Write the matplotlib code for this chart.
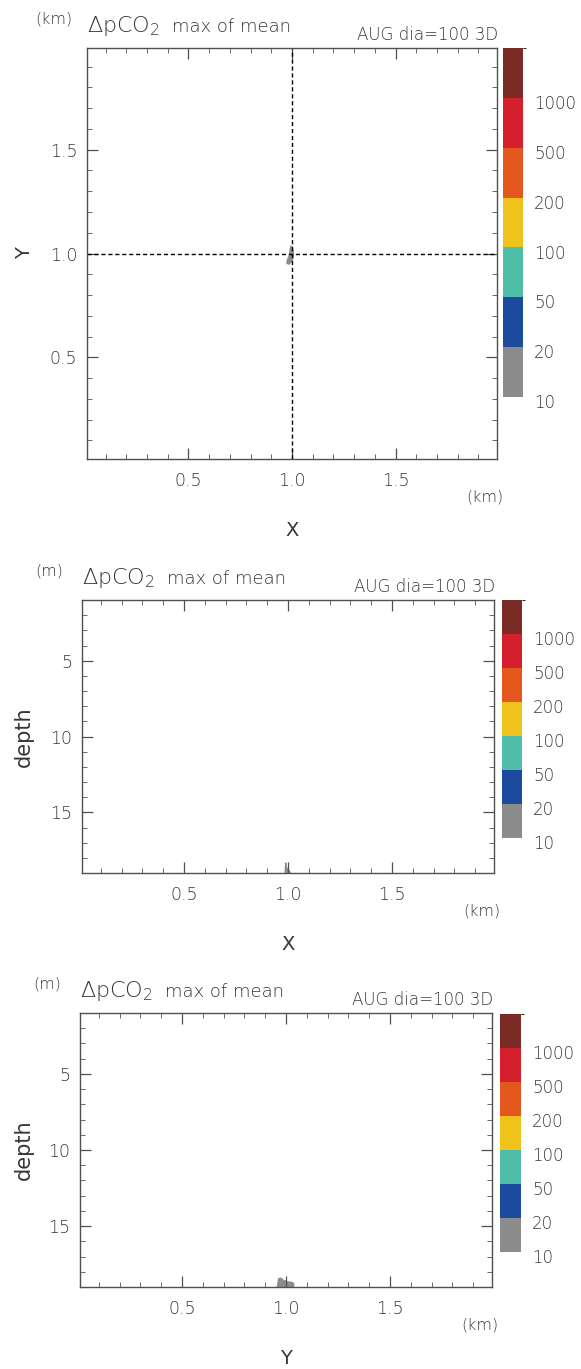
import matplotlib
matplotlib.use('Agg')
import matplotlib.pyplot as plt
from matplotlib.colors import ListedColormap, BoundaryNorm
from matplotlib.cm import ScalarMappable
from matplotlib.ticker import MultipleLocator, FormatStrFormatter
from matplotlib.transforms import ScaledTranslation

plt.rcParams['font.family'] = ['DejaVu Sans']
plt.rcParams['font.weight'] = 'light'

# dpCO2 class boundaries and colours (uatm)
levels = [10, 20, 50, 100, 200, 500, 1000, 2000]
level_labels = [10, 20, 50, 100, 200, 500, 1000]
level_colors = ['#8c8c8c', '#1b4a9f', '#4fbea8', '#f0c21c',
                '#e4571f', '#d61f2c', '#7a2b25']

# plume outline, horizontal plane at source depth (km)
plan_x = [0.993, 1.003, 1.010, 1.009, 1.000, 0.986, 0.972, 0.974, 0.984, 0.988]
plan_y = [1.040, 1.034, 1.008, 0.980, 0.958, 0.945, 0.950, 0.968, 0.992, 1.022]

# plume outline, X-depth section (km, m)
xsec_x = [0.983, 0.986, 0.993, 0.996, 1.008, 1.014, 0.983]
xsec_depth = [19.0, 18.30, 18.30, 18.65, 18.80, 19.0, 19.0]

# plume outline, Y-depth section (km, m)
ysec_y = [0.955, 0.962, 0.975, 0.985, 0.990, 1.000, 1.005, 1.030, 1.040, 1.040, 0.955]
ysec_depth = [19.0, 18.40, 18.38, 18.45, 18.55, 18.55, 18.62, 18.65, 18.75, 19.0, 19.0]

src_x, src_y = 1.0, 1.0

W, H = 581, 1369
TXT = '#363636'
fig = plt.figure(figsize=(W / 100, H / 100), dpi=100)


def box(l, t, r, b):
    return [l / W, 1 - b / H, (r - l) / W, (b - t) / H]


def ftext(x, y, s, **kw):
    kw.setdefault('color', TXT)
    fig.text(x / W, 1 - y / H, s, **kw)


cmap = ListedColormap(level_colors)
norm = BoundaryNorm(levels, cmap.N)


def panel(ax_px, cb_px, vunit, xlab, ylab, depth):
    l, t, r, b = ax_px
    ax = fig.add_axes(box(*ax_px))
    ax.set_xlim(0.01, 1.99)
    if depth:
        ax.set_ylim(19, 1)
        ax.yaxis.set_major_locator(MultipleLocator(5))
        ax.yaxis.set_minor_locator(MultipleLocator(1))
        ax.yaxis.set_major_formatter(FormatStrFormatter('%d'))
    else:
        ax.set_ylim(0.01, 1.99)
        ax.yaxis.set_major_locator(MultipleLocator(0.5))
        ax.yaxis.set_minor_locator(MultipleLocator(0.1))
        ax.yaxis.set_major_formatter(FormatStrFormatter('%.1f'))
    ax.xaxis.set_major_locator(MultipleLocator(0.5))
    ax.xaxis.set_minor_locator(MultipleLocator(0.1))
    ax.xaxis.set_major_formatter(FormatStrFormatter('%.1f'))
    ax.set_xticks([0.5, 1.0, 1.5])
    ax.tick_params(which='both', direction='in', top=True, right=True,
                   colors='#505050', labelcolor=TXT, labelsize=12.5)
    ax.tick_params(which='major', length=8, width=0.9)
    ax.tick_params(which='minor', length=3.5, width=0.6)
    ax.tick_params(axis='y', pad=7)
    ax.tick_params(axis='x', pad=9)
    for s in ax.spines.values():
        s.set_color('#505050')
        s.set_linewidth(1.0)

    ax.set_xlabel(xlab, fontsize=14, color=TXT)
    ax.xaxis.set_label_coords(0.5, -62 / (b - t))
    ax.set_ylabel(ylab, fontsize=15 if depth else 14, color=TXT)
    ax.yaxis.set_label_coords(-(l - 34) / (r - l), 0.5)
    ax.text(1.0 - 12 / (r - l), -38 / (b - t), '(km)', transform=ax.transAxes,
            fontsize=11.5, color=TXT, ha='center', va='center')

    # header line
    ftext(l - 33, t - 29, vunit, fontsize=11.5, ha='center', va='center')
    ftext(l, t - 16, r'$\Delta$pCO$_2$', fontsize=16, ha='left', va='baseline')
    ftext(l + 85, t - 16, 'max of mean', fontsize=13, ha='left', va='baseline')
    ftext(r + 1, t - 8, 'AUG dia=100 3D', fontsize=12, ha='right', va='baseline')

    cax = fig.add_axes(box(*cb_px))
    cb = fig.colorbar(ScalarMappable(norm=norm, cmap=cmap), cax=cax,
                      ticks=level_labels, spacing='uniform')
    cb.outline.set_visible(False)
    cb.ax.tick_params(length=0, pad=8, labelsize=12, labelcolor=TXT)
    cb.ax.set_yticklabels([str(v) for v in level_labels])
    for lab in cb.ax.get_yticklabels():
        lab.set_transform(lab.get_transform() +
                          ScaledTranslation(0, -3 / 72, fig.dpi_scale_trans))
    return ax


ax1 = panel((87, 48, 497, 459), (503, 48, 523, 397), '(km)', 'X', 'Y', False)
ax1.fill(plan_x, plan_y, color=level_colors[0], lw=0)
ax1.axvline(src_x, color='k', lw=1.0, ls=(0, (3, 2)))
ax1.axhline(src_y, color='k', lw=1.0, ls=(0, (3, 2)))

ax2 = panel((82, 600, 494, 873), (502, 600, 522, 838), '(m)', 'X', 'depth', True)
ax2.fill(xsec_x, xsec_depth, color=level_colors[0], lw=0)

ax3 = panel((80, 1013, 492, 1287), (500, 1014, 521, 1252), '(m)', 'Y', 'depth', True)
ax3.fill(ysec_y, ysec_depth, color=level_colors[0], lw=0)

fig.savefig('out.png', dpi=100, facecolor='white')
